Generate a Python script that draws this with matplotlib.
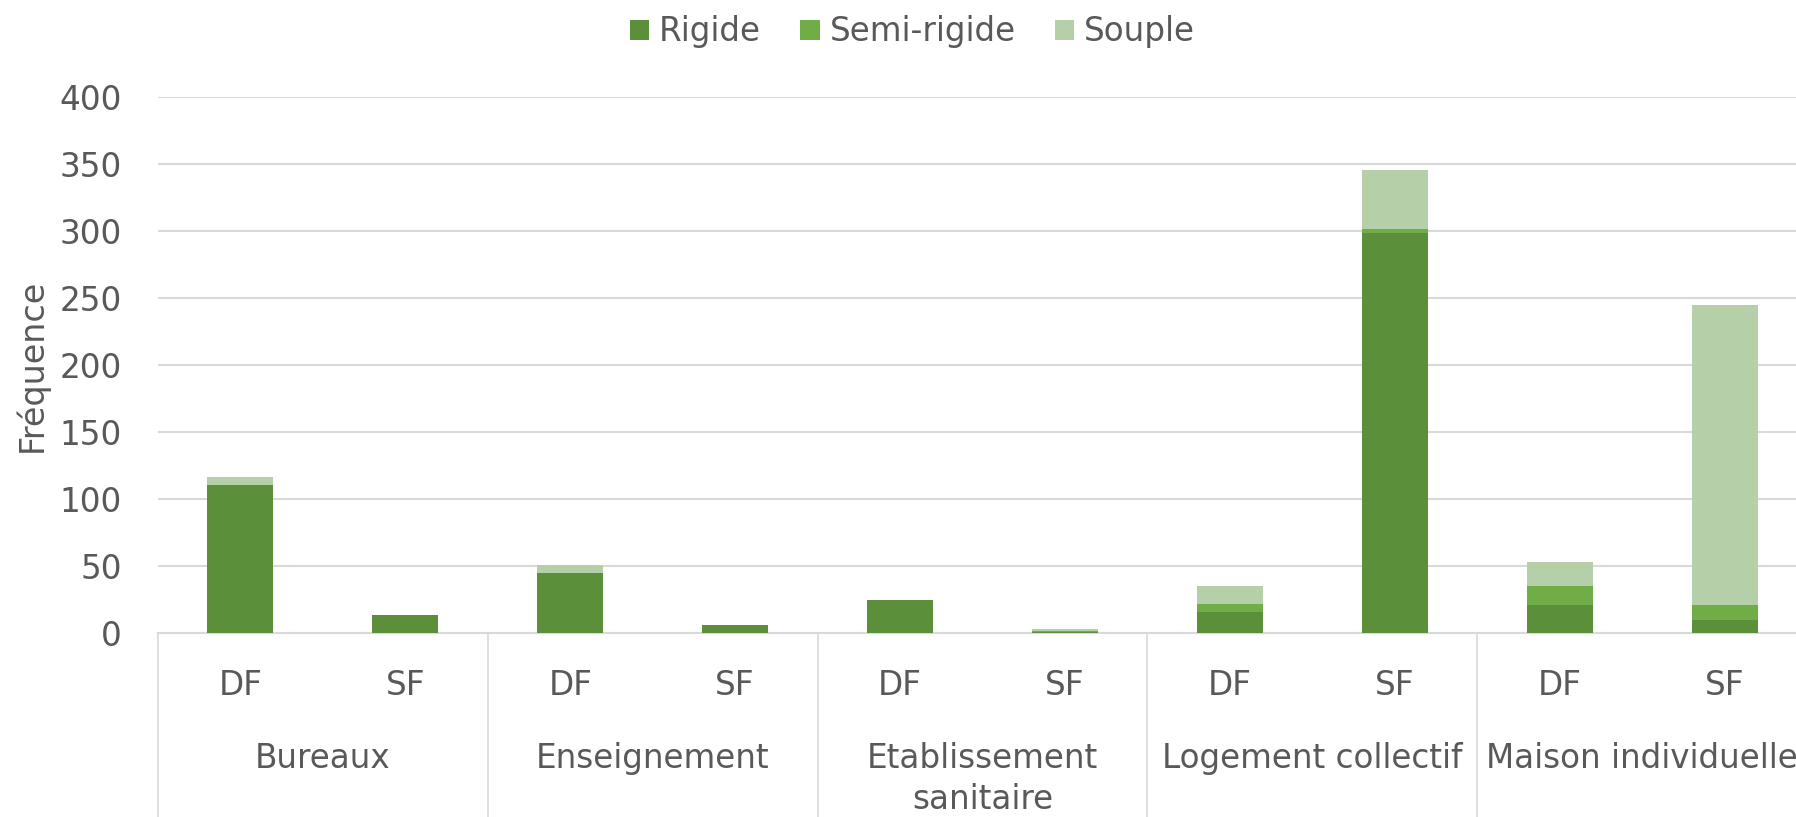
import matplotlib
matplotlib.use("Agg")
from matplotlib import pyplot as plt
import matplotlib.transforms as mtransforms
import numpy as np

groups = ["Bureaux", "Enseignement", "Etablissement\nsanitaire", "Logement collectif", "Maison individuelle"]
sub_labels = ["DF", "SF"]
rigide = [111, 14, 45, 6, 25, 1, 16, 299, 21, 10]
semi_rigide = [0, 0, 0, 0, 0, 1, 6, 3, 14, 11]
souple = [6, 0, 6, 0, 0, 1, 13, 44, 18, 224]

TXT = "#595959"
GRID = "#d9d9d9"
FS = 23.5
plt.rcParams["font.family"] = ["DejaVu Sans"]

fig = plt.figure(figsize=(17.96, 8.17), dpi=100)
ax = fig.add_axes([158 / 1796, 1 - 633.3 / 817, (1807 - 158) / 1796, (633.3 - 97.4) / 817])

x = np.arange(len(rigide))
r = np.array(rigide)
s = np.array(semi_rigide)
so = np.array(souple)
w = 0.4
ax.bar(x, r, w, color="#5b8f3a", label="Rigide", zorder=3)
ax.bar(x, s, w, bottom=r, color="#70ad47", label="Semi-rigide", zorder=3)
ax.bar(x, so, w, bottom=r + s, color="#b5cfa8", label="Souple", zorder=3)

ax.set_xlim(-0.5, len(x) - 0.5)
ax.set_ylim(0, 400)
ax.set_yticks(range(0, 401, 50))
ax.yaxis.grid(True, color=GRID, linewidth=1.5, zorder=0)
ax.tick_params(axis="y", length=0, pad=26, labelsize=FS, labelcolor=TXT)
ax.set_xticks(x)
ax.set_xticklabels(sub_labels * len(groups))
ax.tick_params(axis="x", length=0, pad=26, labelsize=FS, labelcolor=TXT)
for sp in ["top", "right", "left"]:
    ax.spines[sp].set_visible(False)
ax.spines["bottom"].set_color(GRID)
ax.spines["bottom"].set_linewidth(1.5)

ax.set_ylabel("Fréquence", fontsize=24, color=TXT, labelpad=8)

# séparateurs et libellés de groupes sous l'axe
trans = mtransforms.blended_transform_factory(ax.transData, ax.transAxes)
for b in np.arange(-0.5, len(x), 2):
    ax.plot([b, b], [0, -0.4], transform=trans, color=GRID, linewidth=1.2, clip_on=False)
for i, g in enumerate(groups):
    ax.text(2 * i + 0.5, -0.203, g, transform=trans, ha="center", va="top",
            fontsize=FS, color=TXT, linespacing=1.3)

fig.legend(loc="center", bbox_to_anchor=(0.508, 1 - 32 / 817), ncol=3, frameon=False,
           fontsize=FS, labelcolor=TXT, handlelength=0.6, handleheight=0.6,
           handletextpad=0.3, columnspacing=1.2)

fig.savefig("out.png", dpi=100)
